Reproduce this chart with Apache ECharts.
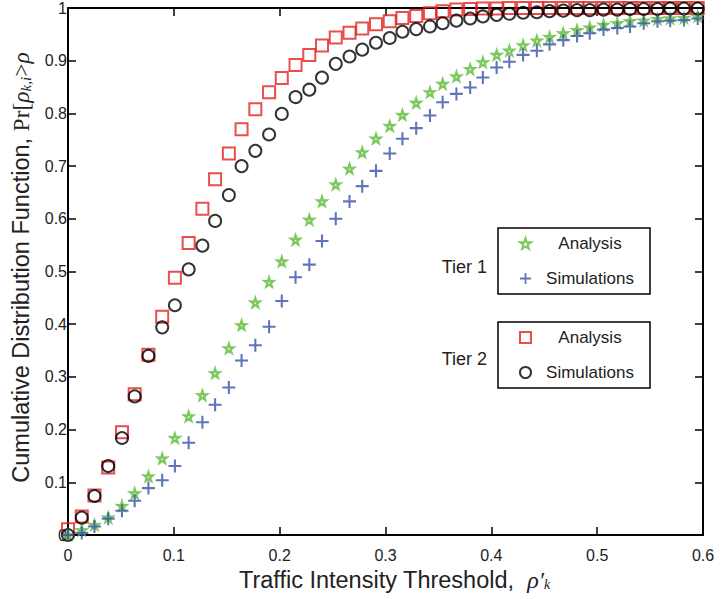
<!DOCTYPE html>
<html>
<head>
<meta charset="utf-8">
<script src="https://cdn.jsdelivr.net/npm/echarts@6/dist/echarts.min.js"></script>
<style>html,body{margin:0;padding:0;background:#fff}#c{width:725px;height:599px}</style>
</head>
<body>
<div id="c"></div>
<script>
// Threshold values (x)
var thresholds = [0, 0.013, 0.025, 0.038, 0.051, 0.063, 0.076, 0.089, 0.101, 0.114, 0.127, 0.139, 0.152, 0.164, 0.177, 0.190, 0.202, 0.215, 0.228, 0.240, 0.253, 0.266, 0.278, 0.291, 0.304, 0.316, 0.329, 0.342, 0.354, 0.367, 0.380, 0.392, 0.405, 0.417, 0.430, 0.443, 0.455, 0.468, 0.481, 0.493, 0.506, 0.519, 0.531, 0.544, 0.557, 0.569, 0.582, 0.595];
// Tier 1
var tier1Analysis = [0.0, 0.009, 0.019, 0.033, 0.055, 0.079, 0.111, 0.145, 0.184, 0.225, 0.265, 0.307, 0.354, 0.398, 0.441, 0.480, 0.519, 0.560, 0.598, 0.633, 0.665, 0.695, 0.726, 0.752, 0.776, 0.797, 0.820, 0.840, 0.856, 0.870, 0.884, 0.897, 0.911, 0.919, 0.929, 0.938, 0.945, 0.952, 0.958, 0.963, 0.968, 0.971, 0.975, 0.976, 0.979, 0.980, 0.981, 0.984];
var tier1Simulations = [0.0, 0.004, 0.016, 0.031, 0.046, 0.065, 0.089, 0.104, 0.131, 0.175, 0.214, 0.247, 0.280, 0.331, 0.360, 0.395, 0.444, 0.489, 0.513, 0.558, 0.600, 0.633, 0.662, 0.691, 0.724, 0.752, 0.772, 0.796, 0.821, 0.837, 0.849, 0.868, 0.887, 0.898, 0.911, 0.919, 0.931, 0.939, 0.947, 0.952, 0.959, 0.962, 0.965, 0.971, 0.975, 0.976, 0.977, 0.980];
// Tier 2
var tier2Analysis = [0.011, 0.035, 0.075, 0.128, 0.195, 0.267, 0.342, 0.414, 0.488, 0.554, 0.619, 0.675, 0.724, 0.770, 0.808, 0.840, 0.867, 0.892, 0.911, 0.929, 0.944, 0.953, 0.961, 0.969, 0.975, 0.981, 0.985, 0.990, 0.994, 0.997, 0.998, 0.999, 0.999, 1.0, 1.0, 1.0, 1.0, 1.0, 1.0, 1.0, 1.0, 1.0, 1.0, 1.0, 1.0, 1.0, 1.0, 1.0];
var tier2Simulations = [0.0, 0.033, 0.074, 0.131, 0.184, 0.263, 0.340, 0.394, 0.436, 0.504, 0.549, 0.596, 0.645, 0.700, 0.729, 0.760, 0.799, 0.831, 0.845, 0.868, 0.894, 0.908, 0.921, 0.934, 0.943, 0.955, 0.960, 0.965, 0.971, 0.976, 0.980, 0.984, 0.987, 0.989, 0.991, 0.992, 0.994, 0.995, 0.996, 0.996, 0.997, 0.997, 0.998, 0.998, 0.998, 0.999, 0.999, 0.999];
var xTicks = [0, 0.1, 0.2, 0.3, 0.4, 0.5, 0.6];
var yTicks = [0, 0.1, 0.2, 0.3, 0.4, 0.5, 0.6, 0.7, 0.8, 0.9, 1];

function pairs(ys) { return thresholds.map(function (x, i) { return [x, ys[i]]; }); }

var FONT = 'Liberation Sans';
var SERIF = 'Liberation Serif';
var TXT = '#222';
var STAR = 'path://M50,0L61.8,35.4L97.6,34.5L69.1,56.2L79.4,90.5L50,70L20.6,90.5L30.9,56.2L2.4,34.5L38.2,35.4Z';
var PLUS = 'path://M4.2,0H5.8V4.2H10V5.8H5.8V10H4.2V5.8H0V4.2H4.2Z';

var chart = echarts.init(document.getElementById('c'), null, {renderer: 'svg'});

var legendRich = {a: {width: 108, align: 'center', fontSize: 17, fontFamily: FONT, color: TXT, lineHeight: 20}};
function legendFmt(name) { return '{a|' + name.replace(/^Tier \d /, '') + '}'; }

var axisCommon = {
  type: 'value', min: 0,
  axisLine: {show: true, onZero: false, lineStyle: {color: '#000', width: 2}},
  axisTick: {show: true, inside: true, length: 8, lineStyle: {color: '#000', width: 1.5}},
  splitLine: {show: false}
};

chart.setOption({
  animation: false,
  backgroundColor: '#fff',
  grid: {left: 68, right: 22, top: 5, bottom: 64},
  xAxis: [
    Object.assign({}, axisCommon, {
      max: 0.6, interval: 0.1, position: 'bottom',
      axisLabel: {margin: 12, fontSize: 16, fontFamily: FONT, color: TXT,
        formatter: function (v) { return xTicks.indexOf(Math.round(v * 10) / 10) >= 0 ? String(Math.round(v * 10) / 10) : ''; }},
      name: '{t|Traffic Intensity Threshold,  }{m|ρ′}{s|k}',
      nameLocation: 'middle', nameGap: 28,
      nameTextStyle: {fontSize: 23.5, fontFamily: FONT, color: TXT, padding: [0, 0, 0, 18],
        rich: {
          t: {fontSize: 23.5, fontFamily: FONT, color: TXT},
          m: {fontSize: 24, fontFamily: SERIF, fontStyle: 'italic', color: TXT},
          s: {fontSize: 14, fontFamily: SERIF, fontStyle: 'italic', color: TXT, lineHeight: 10, verticalAlign: 'bottom'}
        }}
    }),
    Object.assign({}, axisCommon, {max: 0.6, interval: 0.1, position: 'top', axisLabel: {show: false}})
  ],
  yAxis: [
    Object.assign({}, axisCommon, {
      max: 1, interval: 0.1, position: 'left',
      axisLabel: {margin: 1, fontSize: 16, fontFamily: FONT, color: TXT,
        formatter: function (v) { var r = Math.round(v * 10) / 10; return yTicks.indexOf(r) >= 0 ? String(r) : ''; }},
      name: '{t|Cumulative Distribution Function, }{m|Pr[}{i|ρ}{s|k,i}{m|>}{i|ρ}',
      nameLocation: 'middle', nameGap: 35,
      nameTextStyle: {fontSize: 23.5, fontFamily: FONT, color: TXT, padding: [0, 0, 0, 8],
        rich: {
          t: {fontSize: 23.5, fontFamily: FONT, color: TXT},
          m: {fontSize: 23.5, fontFamily: SERIF, color: TXT},
          i: {fontSize: 23.5, fontFamily: SERIF, fontStyle: 'italic', color: TXT},
          s: {fontSize: 15, fontFamily: SERIF, fontStyle: 'italic', color: TXT, lineHeight: 10, verticalAlign: 'bottom'}
        }}
    }),
    Object.assign({}, axisCommon, {max: 1, interval: 0.1, position: 'right', axisLabel: {show: false}})
  ],
  legend: [
    {
      data: ['Tier 1 Analysis', 'Tier 1 Simulations'],
      orient: 'vertical', left: 498, top: 228,
      padding: [7, 6, 7, 21], itemGap: 18, itemWidth: 11, itemHeight: 11,
      borderColor: '#000', borderWidth: 1.5, backgroundColor: '#fff',
      formatter: legendFmt, textStyle: {rich: legendRich}, selectedMode: false
    },
    {
      data: ['Tier 2 Analysis', 'Tier 2 Simulations'],
      orient: 'vertical', left: 498, top: 322,
      padding: [7, 6, 7, 21], itemGap: 18, itemWidth: 11, itemHeight: 11,
      borderColor: '#000', borderWidth: 1.5, backgroundColor: '#fff',
      formatter: legendFmt, textStyle: {rich: legendRich}, selectedMode: false
    }
  ],
  graphic: [
    {type: 'text', x: 487, y: 267, style: {text: 'Tier 1', fill: TXT, font: '18px "Liberation Sans"', textAlign: 'right', verticalAlign: 'middle', textVerticalAlign: 'middle'}},
    {type: 'text', x: 487, y: 359, style: {text: 'Tier 2', fill: TXT, font: '18px "Liberation Sans"', textAlign: 'right', verticalAlign: 'middle', textVerticalAlign: 'middle'}}
  ],
  series: [
    {name: 'Tier 2 Analysis', type: 'scatter', data: pairs(tier2Analysis), symbol: 'rect', symbolSize: 12, clip: false,
      itemStyle: {color: 'transparent', borderColor: '#e3201f', borderWidth: 2}},
    {name: 'Tier 1 Analysis', type: 'scatter', data: pairs(tier1Analysis), symbol: STAR, symbolSize: 9, clip: false,
      itemStyle: {color: 'transparent', borderColor: '#5cbb38', borderWidth: 2.2}},
    {name: 'Tier 2 Simulations', type: 'scatter', data: pairs(tier2Simulations), symbol: 'circle', symbolSize: 12, clip: false,
      itemStyle: {color: 'transparent', borderColor: '#000', borderWidth: 2}},
    {name: 'Tier 1 Simulations', type: 'scatter', data: pairs(tier1Simulations), symbol: PLUS, symbolSize: 13, clip: false,
      itemStyle: {color: '#3653a8'}}
  ]
});
</script>
</body>
</html>
